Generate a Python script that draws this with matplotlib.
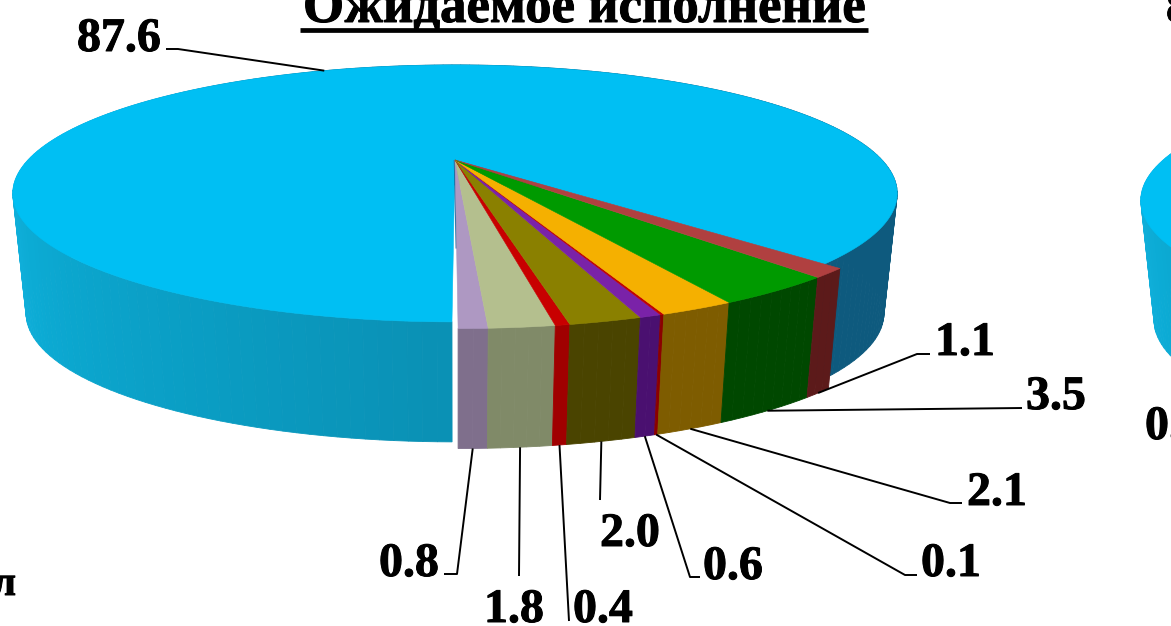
import numpy as np
import matplotlib
matplotlib.use('Agg')
import matplotlib.pyplot as plt
import matplotlib.patheffects as pe
from matplotlib.patches import Polygon
from matplotlib.colors import to_rgb

plt.rcParams['font.family'] = ['Liberation Serif', 'DejaVu Serif']

labels = ['0.8', '1.8', '0.4', '2.0', '0.6', '0.1', '2.1', '3.5', '1.1', '87.6']
values = [0.8, 1.8, 0.4, 2.0, 0.6, 0.1, 2.1, 3.5, 1.1, 87.6]
top_colors = ['#ae98c2', '#b4bf8e', '#c80000', '#8a8000', '#7a22a8', '#c00000',
              '#f5b000', '#009a00', '#b04040', '#00bff3']
side_colors = ['#7f6f8c', '#808a68', '#a00000', '#4a4400', '#4a1070', '#8b0000',
               '#7e5c00', '#004800', '#5c1a1a', None]

# pixel layout of the pie: perspective of the top face plus a wall below it
CX, CY = 455.0, 160.0
A, B, K = 427.0, 119.8, 0.26
WALL, SHRINK = 120.0, 0.03
EXPLODE = 1.03

# leader: elbow points in pixels, text position (left, baseline)
leaders = {
    '0.8': ([(457, 574), (444, 574)], (379, 576)),
    '1.8': ([(519, 576)], (484, 622)),
    '0.4': ([(569, 621)], (573, 622)),
    '2.0': ([(600, 500)], (600, 546)),
    '0.6': ([(690, 577), (700, 577)], (703, 579)),
    '0.1': ([(905, 575), (917, 575)], (921, 576)),
    '2.1': ([(950, 503), (962, 503)], (967, 505)),
    '3.5': ([(1022, 408)], (1026, 409)),
    '1.1': ([(917, 354), (930, 354)], (935, 355)),
    '87.6': ([(178, 49), (166, 49)], (77, 51)),
}


def project(theta, r=1.0, z=0.0, cx=CX, cy=CY, shift=0.0):
    # theta in degrees, clockwise seen from the viewer side, 0 = towards viewer
    t = np.radians(theta)
    u = r * np.sin(t)
    v = r * np.cos(t)
    w = 1 - K * v
    x = cx + shift * r + A * u / w * (1 - SHRINK * z)
    y = cy + B * v / w + WALL * z
    return x, y


def wall_color(theta):
    # shading of the big slice wall, by angle
    stops = [(40, '#0e5a7e'), (110, '#0e5a7e'), (180, '#0e5a7e'), (265, '#1ab8ea'),
             (300, '#0cabd4'), (335, '#0a9cc2'), (360, '#0a90b4')]
    a = np.array([s[0] for s in stops])
    c = np.array([to_rgb(s[1]) for s in stops])
    return [np.interp(theta, a, c[:, i]) for i in range(3)]


def draw_wall(ax, t0, t1, color=None, r=1.0, shift=0.0, cx=CX, cy=CY, z=3):
    steps = np.linspace(t0, t1, max(2, int((t1 - t0) / 1.5) + 2))
    for a, b in zip(steps[:-1], steps[1:]):
        pts = [project(a, r, 0, cx, cy, shift), project(b, r, 0, cx, cy, shift),
               project(b, r, 1, cx, cy, shift), project(a, r, 1, cx, cy, shift)]
        col = color if color is not None else wall_color((a + b) / 2)
        ax.add_patch(Polygon(pts, closed=True, fc=col, ec=col, lw=0.6, zorder=z))


def draw_top(ax, t0, t1, color, r=1.0, shift=0.0, cx=CX, cy=CY, z=4):
    t = np.linspace(t0, t1, max(2, int((t1 - t0) * 2) + 2))
    x, y = project(t, r, 0, cx, cy, shift)
    pts = [(cx, cy)] + list(zip(x, y))
    ax.add_patch(Polygon(pts, closed=True, fc=color, ec=color, lw=0.4, zorder=z))


def bold_text(x, y, s, size=34.5, ha='left'):
    t = ax.text(x, y, s, fontsize=size, fontweight='bold', ha=ha, va='baseline', zorder=9)
    t.set_path_effects([pe.withStroke(linewidth=0.7, foreground='black')])
    return t


fig = plt.figure(figsize=(11.71, 6.26), dpi=100)
ax = fig.add_axes([0, 0, 1, 1])
ax.set_xlim(0, 1171)
ax.set_ylim(626, 0)
ax.axis('off')

angles = np.cumsum([0] + values) * 3.6

# big slice first, the small ones sit in front of it
big_start, big_end = angles[-2], angles[-1]
draw_wall(ax, big_start, big_end - 0.3)
draw_top(ax, big_start, big_end - 0.3, top_colors[-1])

# wall seen in the gap, near the centre
x0, y0 = project(0, 0.0)
x1, y1 = project(0, 0.62, shift=3.0)
ax.plot([x0, x1], [y0, y1], color='#1f6ea0', lw=1.8, zorder=5, solid_capstyle='butt')

for i in range(len(values) - 1):
    draw_wall(ax, angles[i], angles[i + 1], side_colors[i], r=EXPLODE, shift=3.0, z=6)
for i in range(len(values) - 1):
    draw_top(ax, angles[i], angles[i + 1], top_colors[i], r=EXPLODE, shift=3.0, z=7)

# next pie, only its left edge is inside the picture
draw_wall(ax, 180, 359.7, cx=CX + 1128, cy=CY + 7)
draw_top(ax, 180, 359.7, top_colors[-1], cx=CX + 1128, cy=CY + 7)

# leaders and labels
for i, name in enumerate(labels):
    mid = (angles[i] + angles[i + 1]) / 2
    if name == '87.6':
        start = project(mid, 1.0, 0)
    else:
        start = project(mid, EXPLODE, 1, shift=3.0)
    elbows, pos = leaders[name]
    xs = [start[0]] + [p[0] for p in elbows]
    ys = [start[1]] + [p[1] for p in elbows]
    ax.plot(xs, ys, color='black', lw=1.4, zorder=8, solid_capstyle='butt')
    bold_text(pos[0], pos[1], name)

bold_text(584, 22, 'Ожидаемое исполнение', size=38, ha='center')
ax.plot([300, 868], [30, 30], color='black', lw=3.4, solid_capstyle='butt')

# pieces of the neighbouring chart, cut by the picture edge
bold_text(1166, 22, '87.6')
bold_text(1145, 439, '0.8')
bold_text(16, 595, 'л', size=30, ha='right')

fig.savefig('out.png', dpi=100)
